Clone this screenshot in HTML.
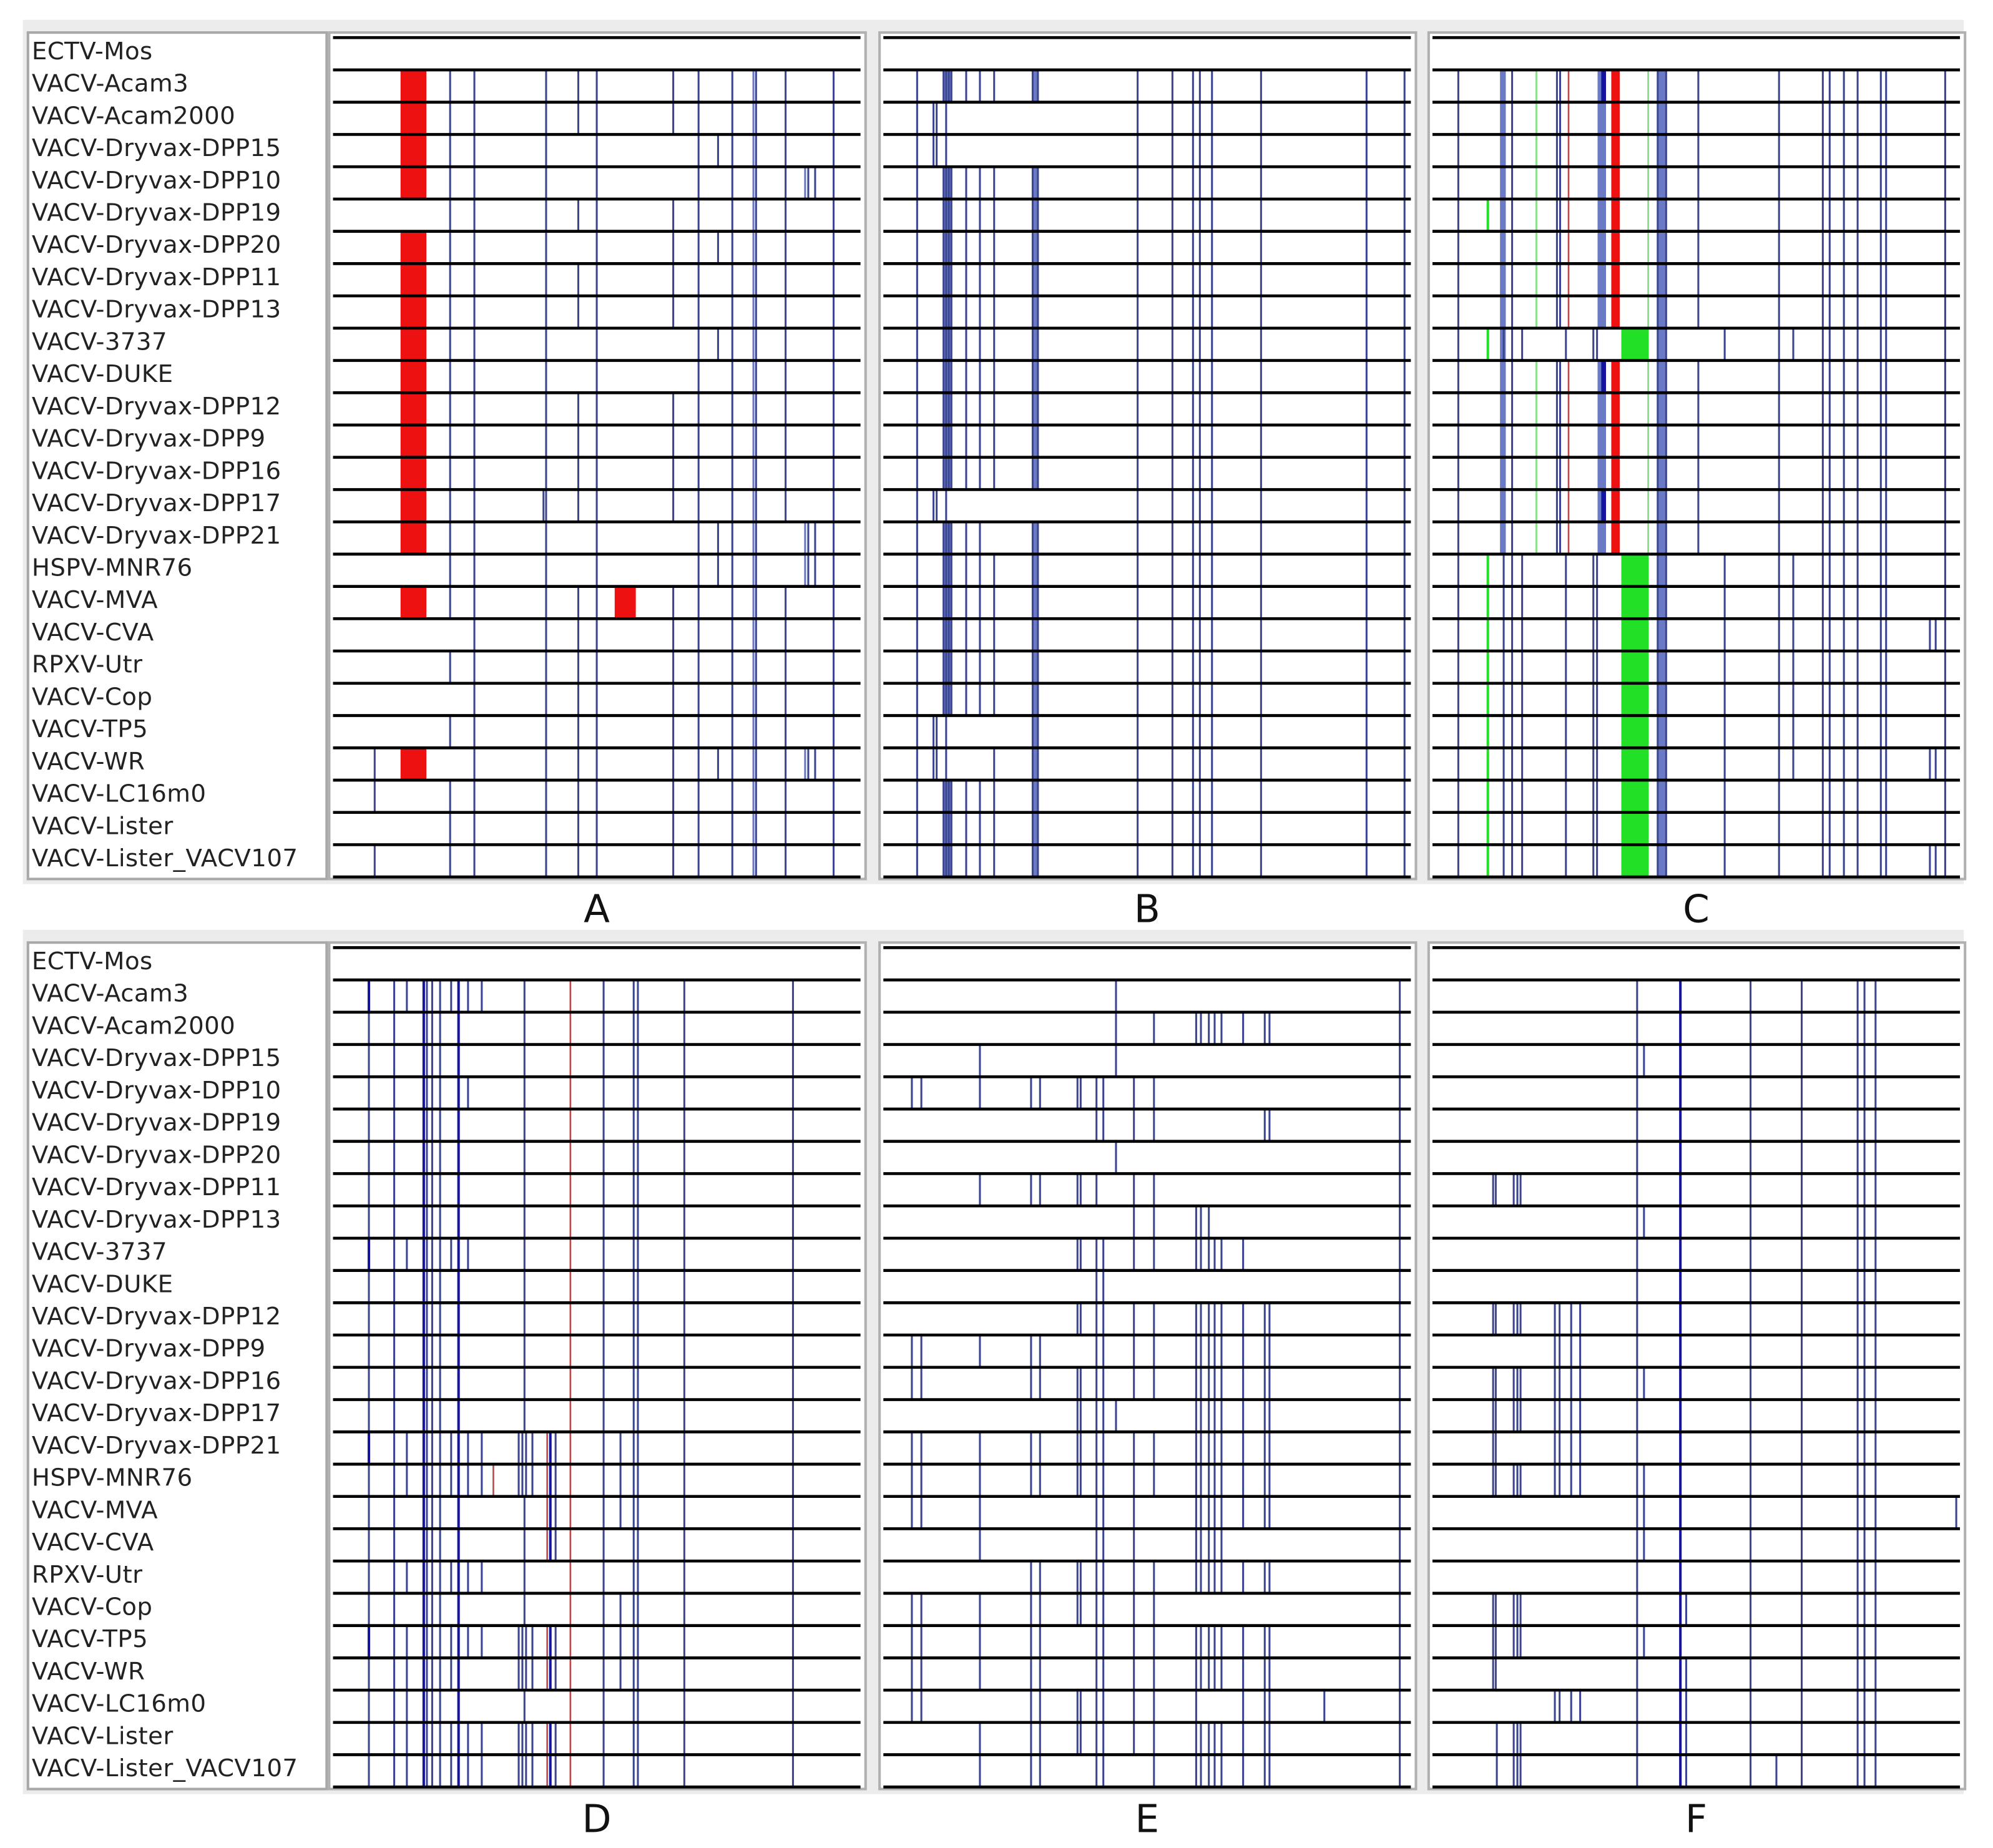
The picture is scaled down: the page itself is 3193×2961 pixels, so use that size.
<!DOCTYPE html>
<html><head><meta charset="utf-8"><title>Genome alignment panels</title>
<style>
html,body{margin:0;padding:0;background:#fff;}
svg{display:block;}
text{font-family:"DejaVu Sans","Liberation Sans",sans-serif;}
</style></head>
<body>
<svg id="chart" xmlns="http://www.w3.org/2000/svg" width="3193" height="2961" viewBox="0 0 1568 1454" preserveAspectRatio="none">
</svg>
<script>
// ----- data -----
const strains = ["ECTV-Mos","VACV-Acam3","VACV-Acam2000","VACV-Dryvax-DPP15","VACV-Dryvax-DPP10","VACV-Dryvax-DPP19","VACV-Dryvax-DPP20","VACV-Dryvax-DPP11","VACV-Dryvax-DPP13","VACV-3737","VACV-DUKE","VACV-Dryvax-DPP12","VACV-Dryvax-DPP9","VACV-Dryvax-DPP16","VACV-Dryvax-DPP17","VACV-Dryvax-DPP21","HSPV-MNR76","VACV-MVA","VACV-CVA","RPXV-Utr","VACV-Cop","VACV-TP5","VACV-WR","VACV-LC16m0","VACV-Lister","VACV-Lister_VACV107"];
const panelLabels = ["A","B","C","D","E","F"];
// features: [position (per-mille of region), width (per-mille), kind, rows]
const panelA = [
 [128,49,"red","1-4,6-15,17,22"],[534,40,"red","17"],
 [222,0,"blue","1-17,19,21,23-25"],[268,0,"blue","1-25"],[404,0,"blue","1-25"],[399,0,"blue","14"],
 [465,0,"blue","1,2,5,7,8,11-14,17-25"],[500,0,"blue","1-25"],[645,0,"blue","1,2,5-8,11-14,17-25"],
 [693,0,"blue","1-25"],[730,0,"blue","3,6,9,15,16,22"],[757,0,"blue","1-25"],[797,0,"lblue","1-25"],[802,0,"blue","1-25"],
 [858,0,"blue","1-14,17-25"],[895,0,"lblue","4,15,16,22"],[901,0,"blue","4,15,16,22"],[914,0,"blue","4,15,16,22"],
 [949,0,"blue","1-25"],[79,0,"blue","22,23,25"]
];
const panelB = [
 [64,0,"blue","1-25"],
 [114,15,"band","1,4-13,15-20,23-25"],[114,0,"blue","1,4-13,15-20,23-25"],[119,0,"blue","1,4-13,15-20,23-25"],[124,0,"blue","1,4-13,15-20,23-25"],[129,0,"blue","1,4-13,15-20,23-25"],
 [95,0,"blue","2,3,14,21,22"],[101,0,"blue","2,3,14,21,22"],[119,0,"blue","2,3,14,21,22"],
 [157,0,"blue","1,4-13,15-20,23-25"],[183,0,"blue","1,4-13,15-20,23-25"],[210,0,"blue","1,4-13,16-20,22-25"],
 [283,10,"band","1,4-13,15-25"],[283,0,"blue","1,4-13,15-25"],[293,0,"blue","1,4-13,15-25"],
 [482,0,"blue","1-25"],[548,0,"blue","1-25"],[587,0,"blue","1-25"],[600,0,"blue","1-25"],[623,0,"blue","1-25"],
 [716,0,"blue","1-25"],[916,0,"blue","1-25"],[988,0,"blue","1-25"]
];
const panelC = [
 [49,0,"blue","1-25"],[128,11,"band","1-15"],[151,0,"blue","1-25"],[135,0,"blue","9,16-25"],[170,0,"blue","9,16-25"],
 [105,0,"green","5,9,16-25"],[197,0,"lgreen","1-8,10-15"],[236,0,"blue","1-8,10-15"],[242,0,"blue","1-8,10-15"],
 [253,0,"blue","9,16-25"],[258,0,"dred","1-8,10-15"],[313,16,"band","1-8,10-15"],[320,9,"dblue","1,10,14"],
 [305,0,"blue","9,16-25"],[312,0,"blue","9,16-25"],[339,16,"red","1-8,10-15"],[358,52,"green","9,16-25"],
 [409,0,"lgreen","1-8,10-15"],[427,16,"band","1-25"],[427,0,"blue","1-25"],[443,0,"blue","1-25"],
 [504,0,"blue","1-8,10-15"],[554,0,"blue","9,16-25"],[657,0,"blue","1-25"],[684,0,"blue","9,16-22"],
 [740,0,"blue","1-25"],[753,0,"blue","1-25"],[780,0,"blue","1-25"],[806,0,"blue","1-25"],[850,0,"blue","1-25"],
 [860,0,"blue","1-25"],[972,0,"blue","1-25"],[943,0,"blue","18,22,25"],[954,0,"blue","18,22,25"]
];
const panelD = [
 [68,0,"blue","1-25"],[68,0,"dblue","1,9,15,21"],[116,0,"blue","1-25"],[140,0,"blue","1,9,15,16,19,21-25"],
 [172,0,"dblue","1-25"],[178,0,"blue","1-25"],[188,0,"blue","1-25"],[203,0,"blue","1-25"],
 [224,0,"blue","1,9,15,16,19,21,22,24,25"],[238,0,"dblue","1-25"],[256,0,"blue","1,4,9,15,16,19,21,24,25"],
 [282,0,"blue","1,15,16,19,21,24,25"],[304,0,"dred","16"],
 [352,0,"blue","15,16,21,22,24,25"],[359,0,"blue","15,16,21,22,24,25"],[366,0,"blue","15,16,21,22,24,25"],[378,0,"blue","15,16,21,22,24,25"],
 [363,0,"blue","1-14,17-20,23"],[406,0,"dred","15-18,21,22,24,25"],[412,0,"dblue","15-18,21,22,24,25"],[422,0,"blue","15-18,21,22,24,25"],
 [450,0,"dred","1-25"],[513,0,"blue","1-25"],[545,0,"blue","15-17,20-22"],[570,0,"blue","1-25"],[578,0,"blue","1-25"],
 [666,0,"blue","1-25"],[872,0,"blue","1-25"]
];
const panelE = [
 [54,0,"blue","4,12,13,15,16,17,20,21,22,23"],[72,0,"blue","4,12,13,15,16,17,20,21,22,23"],
 [183,0,"blue","3,4,7,12,15,16,17,18,20,21,22,24,25"],
 [280,0,"blue","4,7,12,13,15,16,19-25"],[297,0,"blue","4,7,12,13,15,16,19-25"],
 [368,0,"blue","4,7,9,11,13,14,15,16,19,20,23,24"],[374,0,"blue","4,7,9,11,13,14,15,16,19,20,23,24"],
 [404,0,"blue","4,5,7,9-25"],[417,0,"blue","4,5,9-25"],[441,0,"blue","1,2,3,6,14"],
 [475,0,"blue","4,5,7,8,9,11,12,13,15-24"],[513,0,"blue","2,4,5,7,8,9,11,12,13,15,16,19-25"],
 [593,0,"blue","2,8,9,11-19,21-25"],[602,0,"blue","2,8,9,11-19,21,22,24,25"],[617,0,"blue","2,8,9,11-19,21,22,24,25"],
 [628,0,"blue","2,9,11-19,21,22,24,25"],[641,0,"blue","2,9,11-19,21,22,24,25"],
 [682,0,"blue","2,9,11-17,19,21-25"],[723,0,"blue","2,5,11-17,19,21-25"],[732,0,"blue","2,5,11-17,19,21-25"],
 [836,0,"blue","23"],[979,0,"blue","1-25"]
];
const panelF = [
 [388,0,"blue","1-25"],[470,0,"dblue","1-25"],[603,0,"blue","1-25"],[700,0,"blue","1-25"],[806,0,"blue","1-25"],
 [819,0,"blue","1-25"],[840,0,"blue","1-25"],[401,0,"blue","3,8,13,16,17,18,21"],[481,0,"blue","20,22,23,24,25"],
 [115,0,"blue","7,11,13,14,15,16,20,21,22"],[120,0,"blue","7,11,13,14,15,16,20,21,22"],[122,0,"blue","24,25"],
 [154,0,"blue","7,11,13,14,16,20,21,24,25"],[161,0,"blue","7,11,13,14,16,20,21,24,25"],[167,0,"blue","7,11,13,14,16,20,21,24,25"],
 [232,0,"blue","11-16,23"],[241,0,"blue","11-16,23"],[263,0,"blue","11-16,23"],[280,0,"blue","11-16,23"],
 [652,0,"blue","25"],[993,0,"blue","17"]
];
const panelData = [panelA,panelB,panelC,panelD,panelE,panelF];

// ----- layout -----
const NS="http://www.w3.org/2000/svg";
const svg=document.getElementById("chart");
const panelX0=[262,695,1127];
const panelW=415;
const blockY0=[29.6,745.6];
const rowH=25.4;
const nRows=strains.length;
const colors={blue:["#3c4690",1.5],lblue:["#6a78c0",1.5],dblue:["#1414a0",2.0],red:["#ee1111",0],green:["#22e026",2],lgreen:["#88e088",1.4],dred:["#c04848",1.3],band:["#6a7ac4",0]};
function xScale(p,x0){return x0+p/1000*panelW;}
function yRow(r,y0){return y0+r*rowH;}
function parseRows(s){const out=[];s.split(",").forEach(t=>{const m=t.split("-");if(m.length===2){for(let i=+m[0];i<=+m[1];i++)out.push(i);}else out.push(+t);});return out;}
function el(tag,attrs,parent){const e=document.createElementNS(NS,tag);for(const k in attrs)e.setAttribute(k,attrs[k]);(parent||svg).appendChild(e);return e;}

for(let b=0;b<2;b++){
  const y0=blockY0[b];
  const g=el("g",{});
  
  
  const bg=el("rect",{x:18,y:y0-14,width:1527,height:680,fill:"#ececec"},g);
  
  
  const lb=el("rect",{x:22,y:y0-4,width:235,height:666,fill:"#fff",stroke:"#a8a8a8","stroke-width":2},g);
  
  
  strains.forEach((s,i)=>{
    const t=el("text",{x:25,y:yRow(i,y0)+17,"font-size":19,"letter-spacing":0.2,fill:"#222"},g);
    t.textContent=s;
    
    
  });
  for(let p=0;p<3;p++){
    const x0=panelX0[p];
    const idx=b*3+p;
    const pg=el("g",{},g);
    
    
    const pr=el("rect",{x:x0-3,y:y0-4,width:panelW+7,height:666,fill:"#fff",stroke:"#b0b0b0","stroke-width":2},pg);
    
    
    panelData[idx].forEach(f=>{
      const [pos,w,kind,rows]=f;
      const c=colors[kind];
      parseRows(rows).forEach(r=>{
        const ya=yRow(r,y0), yb=yRow(r+1,y0);
        let m;
        if(w>0){
          m=el("rect",{x:xScale(pos,x0),y:ya,width:w/1000*panelW,height:yb-ya,fill:c[0]},pg);
        }else{
          m=el("line",{x1:xScale(pos,x0),x2:xScale(pos,x0),y1:ya,y2:yb,stroke:c[0],"stroke-width":c[1]},pg);
        }
        
        
      });
    });
    for(let k=0;k<=nRows;k++){
      const ln=el("line",{x1:x0,x2:x0+panelW,y1:yRow(k,y0),y2:yRow(k,y0),stroke:"#000","stroke-width":2.3},pg);
      
      
    }
    const lt=el("text",{x:x0+panelW/2,y:y0+696,"font-size":30,"text-anchor":"middle",fill:"#111","font-family":"Liberation Sans, sans-serif"},g);
    lt.textContent=panelLabels[idx];
    
    
  }
}
</script>
</body></html>
